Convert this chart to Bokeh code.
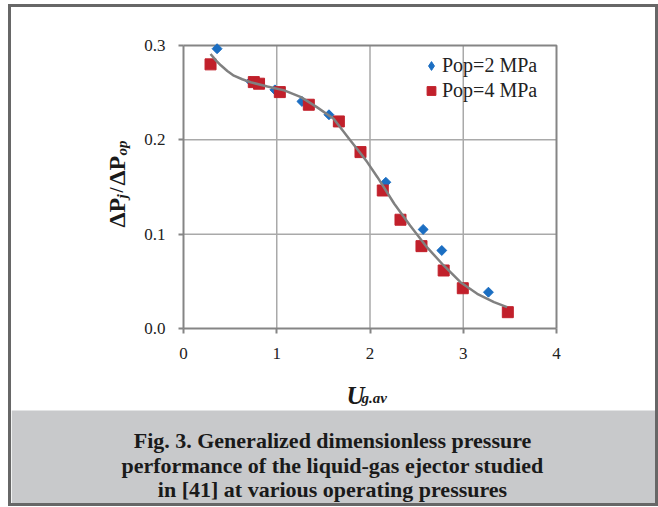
import numpy as np
from bokeh.plotting import figure
from bokeh.layouts import column
from bokeh.models import (Label, FixedTicker, NumeralTickFormatter, LinearAxis,
                          Range1d, Legend, LegendItem)
from bokeh.embed import file_html
from bokeh.resources import INLINE

# ---------------- data ----------------
x_ticks = [0, 1, 2, 3, 4]
y_ticks = [0.0, 0.1, 0.2, 0.3]

pop2_x = [0.36, 0.72, 0.98, 1.27, 1.56, 2.17, 2.57, 2.77, 3.27]
pop2_y = [0.2966, 0.262, 0.253, 0.2407, 0.2266, 0.155, 0.105, 0.0827, 0.0385]

pop4_x = [0.29, 0.754, 0.81, 1.033, 1.344, 1.666, 1.898, 2.137, 2.327, 2.552, 2.79, 2.995, 3.478]
pop4_y = [0.280, 0.2612, 0.2595, 0.2506, 0.2372, 0.2195, 0.187, 0.1463, 0.1153, 0.0873, 0.0615, 0.0427, 0.0173]

trend_x = [0.29, 0.35, 0.40, 0.47, 0.54, 0.63, 0.72, 0.90, 1.08, 1.26, 1.43, 1.61, 1.79, 1.90, 1.97,
           2.08, 2.26, 2.43, 2.61, 2.79, 2.97, 3.15, 3.33, 3.47]
trend_y = [0.291, 0.284, 0.279, 0.273, 0.268, 0.2642, 0.261, 0.2566, 0.2524, 0.2453, 0.2347, 0.2224,
           0.1994, 0.1855, 0.1764, 0.1604, 0.1322, 0.1092, 0.0862, 0.0668, 0.0491, 0.0368, 0.0279, 0.0226]

series_labels = ["Pop=2 MPa", "Pop=4 MPa"]
caption_lines = ["Fig. 3. Generalized dimensionless pressure",
                 "performance of the liquid-gas ejector studied",
                 "in [41] at various operating pressures"]

# ---------------- layout (canvas pixels, origin top-left) ----------------
W, H = 644, 496
FX0, FX1 = 172, 545      # plot area left/right
FY0, FY1 = 38, 321       # plot area top/bottom
CAP_TOP = 403            # caption panel top

SERIF = "Liberation Serif"
BLUE = "#1b6ec2"
RED = "#c1202b"
GRID = "#a9a9a9"
AXIS = "#858585"
TXT = "#1a1a1a"

xs = (x_ticks[-1] - x_ticks[0]) / (FX1 - FX0)
ys = (y_ticks[-1] - y_ticks[0]) / (FY1 - FY0)
x_range = Range1d(x_ticks[0] - FX0 * xs, x_ticks[-1] + (W - FX1) * xs)
y_range = Range1d(y_ticks[0] - (H - FY1) * ys, y_ticks[-1] + FY0 * ys)


def sy(py):
    return H - py


p = figure(width=W, height=H, output_backend="svg", toolbar_location=None,
           x_range=x_range, y_range=y_range, min_border=0,
           x_axis_type=None, y_axis_type=None,
           background_fill_color="white", border_fill_color="white")
p.outline_line_color = None

# caption panel background
p.quad(left=[x_range.start], right=[x_range.end], bottom=[y_range.start],
       top=[y_range.end - CAP_TOP * ys], fill_color="#c8c9cb", line_color=None)

# grid lines (interior ticks only)
gx = x_ticks[1:-1]
gy = y_ticks[1:-1]
p.segment(x0=gx, y0=[y_ticks[0]] * len(gx), x1=gx, y1=[y_ticks[-1]] * len(gx),
          line_color=GRID, line_width=1.5)
p.segment(x0=[x_ticks[0]] * len(gy), y0=gy, x1=[x_ticks[-1]] * len(gy), y1=gy,
          line_color=GRID, line_width=1.5)

# top/right plot-area border
p.line([x_ticks[0], x_ticks[-1], x_ticks[-1]], [y_ticks[-1], y_ticks[-1], y_ticks[0]],
       line_color=AXIS, line_width=2)


def style_axis(ax):
    ax.axis_line_color = AXIS
    ax.axis_line_width = 2
    ax.major_tick_line_color = AXIS
    ax.major_tick_line_width = 2
    ax.major_tick_out = 5
    ax.major_tick_in = 0
    ax.minor_tick_line_color = None
    ax.major_label_text_font = SERIF
    ax.major_label_text_font_size = "17px"
    ax.major_label_text_color = "#222222"


yax = LinearAxis(fixed_location=x_ticks[0], ticker=FixedTicker(ticks=y_ticks),
                 formatter=NumeralTickFormatter(format="0.0"), bounds=(y_ticks[0], y_ticks[-1]))
style_axis(yax)
yax.major_label_standoff = 13
p.add_layout(yax, "left")

xax = LinearAxis(fixed_location=y_ticks[0], ticker=FixedTicker(ticks=x_ticks),
                 formatter=NumeralTickFormatter(format="0"), bounds=(x_ticks[0], x_ticks[-1]))
style_axis(xax)
xax.major_label_standoff = 14
p.add_layout(xax, "below")

# data
r2 = p.scatter(pop2_x, pop2_y, marker="square", angle=np.pi / 4, size=7,
               fill_color=BLUE, line_color=BLUE)
r4 = p.scatter(pop4_x, pop4_y, marker="square", size=11,
               fill_color=RED, line_color=RED)
p.line(trend_x, trend_y, line_color="#808080", line_width=2.5)

# legend: a hidden diamond renderer of the same series supplies the legend swatch
leg2 = p.scatter(pop2_x, pop2_y, marker="diamond", fill_color=BLUE, line_color=BLUE,
                 visible=False)
lg = Legend(items=[LegendItem(label=series_labels[0], renderers=[leg2]),
                   LegendItem(label=series_labels[1], renderers=[r4])],
            location=(409, sy(96)))
lg.background_fill_alpha = 0
lg.border_line_color = None
lg.inactive_fill_alpha = 0
lg.padding = 0
lg.margin = 0
lg.spacing = 0
lg.glyph_width = 22
lg.glyph_height = 25
lg.label_standoff = 0
lg.label_text_font = SERIF
lg.label_text_font_size = "20px"
lg.label_text_color = "#222222"
p.add_layout(lg)

# y-axis label pieces: ΔP_j / ΔP_op (rotated, reading upward)
ylab = [("ΔP", "bold", "24px", 220, 105),
        ("j", "bold italic", "15px", 191, 110),
        ("/", "bold", "18px", 185, 105),
        ("ΔP", "bold", "24px", 178, 105),
        ("op", "bold italic", "15px", 148, 110)]
for txt, style, size, py, px in ylab:
    p.add_layout(Label(x=px, y=sy(py), x_units="screen", y_units="screen", text=txt,
                       angle=np.pi / 2, text_font=SERIF, text_font_style=style,
                       text_font_size=size, text_color=TXT,
                       text_baseline="alphabetic", text_align="left"))

# x-axis label: U_g.av
p.add_layout(Label(x=335, y=sy(388), x_units="screen", y_units="screen", text="U",
                   text_font=SERIF, text_font_style="bold italic", text_font_size="25px",
                   text_color=TXT, text_baseline="alphabetic"))
p.add_layout(Label(x=350, y=sy(390), x_units="screen", y_units="screen", text="g.av",
                   text_font=SERIF, text_font_style="bold italic", text_font_size="15px",
                   text_color=TXT, text_baseline="alphabetic"))

# caption
for line, py in zip(caption_lines, [433, 458, 482]):
    p.add_layout(Label(x=W / 2 - 1, y=sy(py), x_units="screen", y_units="screen", text=line,
                       text_font=SERIF, text_font_style="bold", text_font_size="22px",
                       text_color=TXT, text_baseline="alphabetic", text_align="center"))

layout = column(p, margin=(4, 0, 0, 8), styles={"border": "3px solid #676767"})

open("out.html", "w").write(file_html(layout, INLINE))
